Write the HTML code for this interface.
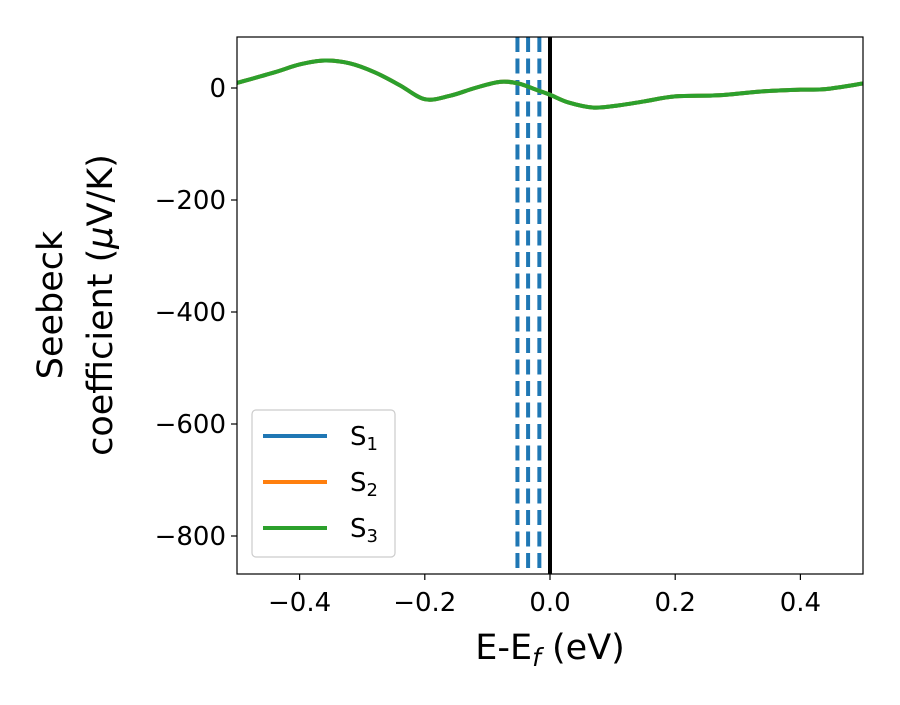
<!DOCTYPE html>
<html><head><meta charset="utf-8"><style>
body{margin:0;background:#fff}
svg text{font-family:"DejaVu Sans","Liberation Sans",sans-serif;fill:#000}
</style></head><body>
<svg id="chart" width="900" height="700" xmlns="http://www.w3.org/2000/svg">
<g id="marks"></g>
<g id="axes"></g>
</svg>
<script>
const xs=[-0.5,-0.44,-0.4,-0.36,-0.32,-0.28,-0.24,-0.2,-0.16,-0.12,-0.08,-0.05,-0.02,0.0,0.03,0.07,0.11,0.15,0.2,0.27,0.34,0.4,0.44,0.5];
const s1=[9,28,42,49,44,28,5,-20,-14,0,11,8,-4,-12,-26,-35,-31,-24,-15,-13,-6,-3,-2,8];
const s2=s1.slice();
const s3=s1.slice();
const vlines=[-0.052,-0.035,-0.017];
const xTicks=[-0.4,-0.2,0.0,0.2,0.4];
const xTickLabels=["\u22120.4","\u22120.2","0.0","0.2","0.4"];
const yTicks=[0,-200,-400,-600,-800];
const yTickLabels=["0","\u2212200","\u2212400","\u2212600","\u2212800"];
const L=237,R=863,T=37,B=574;
const X=v=>550+v*626;
const Y=v=>88-v*0.56;
const NS="http://www.w3.org/2000/svg";
const marks=document.getElementById('marks'),axes=document.getElementById('axes');
function mk(tag,attrs,parent){const e=document.createElementNS(NS,tag);for(const k in attrs)e.setAttribute(k,attrs[k]);parent.appendChild(e);return e;}
function smooth(xv,yv){const p=xv.map((x,i)=>[X(x),Y(yv[i])]);let d=`M${p[0][0]},${p[0][1]}`;
for(let i=0;i<p.length-1;i++){const p0=p[Math.max(0,i-1)],p1=p[i],p2=p[i+1],p3=p[Math.min(p.length-1,i+2)];
const c1=[p1[0]+(p2[0]-p0[0])/6,p1[1]+(p2[1]-p0[1])/6],c2=[p2[0]-(p3[0]-p1[0])/6,p2[1]-(p3[1]-p1[1])/6];
d+=` C${c1[0]},${c1[1]} ${c2[0]},${c2[1]} ${p2[0]},${p2[1]}`;}return d;}
const clip=mk('clipPath',{id:'pc'},marks);mk('rect',{x:L,y:T,width:R-L,height:B-T},clip);
vlines.forEach((v,i)=>{const l=mk('line',{x1:X(v),x2:X(v),y1:T,y2:B,stroke:'#1f77b4','stroke-width':4,'stroke-dasharray':'15,6.5'},marks);

});
const z=mk('line',{x1:X(0),x2:X(0),y1:T,y2:B,stroke:'#000','stroke-width':4},marks);


[[s1,'#1f77b4','series-s1'],[s2,'#ff7f0e','series-s2'],[s3,'#2ca02c','series-s3']].forEach(([s,c,n])=>{
const p=mk('path',{d:smooth(xs,s),fill:'none',stroke:c,'stroke-width':4,'clip-path':'url(#pc)'},marks);

});
const fr=mk('rect',{x:L,y:T,width:R-L,height:B-T,fill:'none',stroke:'#000','stroke-width':1.2},axes);


xTicks.forEach((v,i)=>{mk('line',{x1:X(v),x2:X(v),y1:B,y2:B+6,stroke:'#000','stroke-width':1.2},axes);
const t=mk('text',{x:X(v),y:B+37,'text-anchor':'middle','font-size':26},axes);t.textContent=xTickLabels[i];

});
yTicks.forEach((v,i)=>{mk('line',{x1:L-6,x2:L,y1:Y(v),y2:Y(v),stroke:'#000','stroke-width':1.2},axes);
const t=mk('text',{x:L-11,y:Y(v)+9,'text-anchor':'end','font-size':26},axes);t.textContent=yTickLabels[i];

});
</script>
<svg width="900" height="700" style="position:absolute;left:0;top:0" xmlns="http://www.w3.org/2000/svg">
<text x="550" y="659" text-anchor="middle" font-size="35">E-E<tspan font-style="italic" font-size="25" dy="7">f</tspan><tspan dy="-7"> (eV)</tspan></text>
<g>
<text transform="translate(62,305) rotate(-90)" text-anchor="middle" font-size="35">Seebeck</text>
<text transform="translate(112,305) rotate(-90)" text-anchor="middle" font-size="35">coefficient  (<tspan font-style="italic">μ</tspan>V/K)</text>
</g>
<g>
<rect x="252" y="410" width="143" height="147" rx="4" fill="#fff" fill-opacity="0.8" stroke="#ccc" stroke-width="1.2"/>
<g><line x1="263" x2="327" y1="436" y2="436" stroke="#1f77b4" stroke-width="4"/><text x="350" y="445" font-size="26">S<tspan font-size="18" dy="5">1</tspan></text></g>
<g><line x1="263" x2="327" y1="482" y2="482" stroke="#ff7f0e" stroke-width="4"/><text x="350" y="491" font-size="26">S<tspan font-size="18" dy="5">2</tspan></text></g>
<g><line x1="263" x2="327" y1="528" y2="528" stroke="#2ca02c" stroke-width="4"/><text x="350" y="537" font-size="26">S<tspan font-size="18" dy="5">3</tspan></text></g>
</g>
</svg>
</body></html>
